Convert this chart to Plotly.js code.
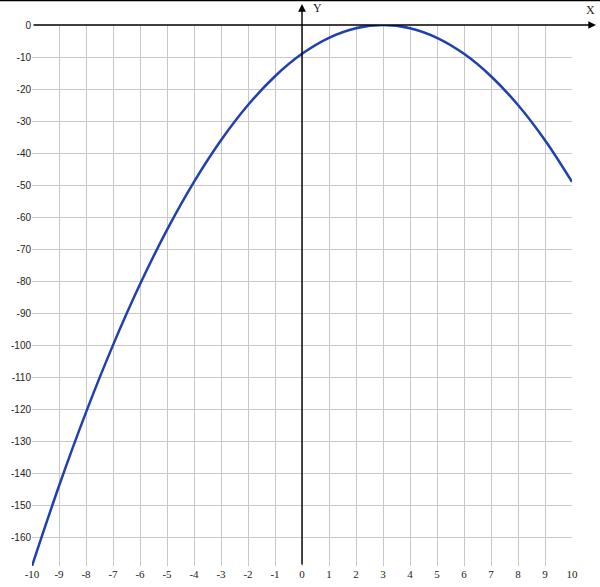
<!DOCTYPE html>
<html>
<head>
<meta charset="utf-8">
<script src="https://cdn.plot.ly/plotly-3.0.1.min.js"></script>
<style>html,body{margin:0;padding:0;background:#fff;}#chart{width:600px;height:587px;}</style>
</head>
<body>
<div id="chart"></div>
<script>
const xValues = [-10,-9,-8,-7,-6,-5,-4,-3,-2,-1,0,1,2,3,4,5,6,7,8,9,10];
const yValues = [-169,-144,-121,-100,-81,-64,-49,-36,-25,-16,-9,-4,-1,0,-1,-4,-9,-16,-25,-36,-49];
const xTickVals = [-10,-9,-8,-7,-6,-5,-4,-3,-2,-1,0,1,2,3,4,5,6,7,8,9,10];
const yTickVals = [0,-10,-20,-30,-40,-50,-60,-70,-80,-90,-100,-110,-120,-130,-140,-150,-160];

const W = 600, H = 587;
const m = {l: 32, r: 28, t: 25, b: 21};
const pw = W - m.l - m.r, ph = H - m.t - m.b;
const px = p => (p - m.l) / pw;          // pixel x -> paper x
const py = p => (H - m.b - p) / ph;      // pixel y -> paper y

const trace = {
  x: xValues, y: yValues, type: 'scatter', mode: 'lines',
  line: {color: '#2040b0', width: 2.5, shape: 'spline', smoothing: 1},
  hoverinfo: 'skip'
};

const layout = {
  width: W, height: H,
  margin: m,
  paper_bgcolor: '#fff', plot_bgcolor: '#fff',
  showlegend: false,
  xaxis: {
    range: [-10, 10], tickvals: xTickVals, ticktext: xTickVals.map(String),
    showgrid: true, gridcolor: '#c8c8c8', gridwidth: 1,
    zeroline: false, showline: false, ticks: '',
    tickfont: {family: 'Liberation Serif', size: 11, color: '#222'},
    fixedrange: true
  },
  yaxis: {
    range: [-169, 0], tickvals: yTickVals, ticktext: yTickVals.map(String),
    showgrid: true, gridcolor: '#c8c8c8', gridwidth: 1,
    zeroline: false, showline: false, ticks: '',
    tickfont: {family: 'Liberation Sans', size: 10, color: '#222'},
    fixedrange: true
  },
  shapes: [
    {type: 'line', xref: 'paper', yref: 'paper', x0: px(0), x1: px(600), y0: py(0.5), y1: py(0.5), line: {color: '#000', width: 1.5}}
  ],
  annotations: [
    {xref: 'x', yref: 'paper', x: 0, y: py(4), axref: 'pixel', ayref: 'pixel', ax: 0, ay: 562,
     text: '', showarrow: true, arrowhead: 2, arrowsize: 1.1, arrowwidth: 1.4, arrowcolor: '#000', standoff: 0, startstandoff: 0},
    {xref: 'paper', yref: 'y', x: px(596), y: 0, axref: 'pixel', ayref: 'pixel', ax: -564, ay: 0,
     text: '', showarrow: true, arrowhead: 2, arrowsize: 1.1, arrowwidth: 1.4, arrowcolor: '#000', standoff: 0, startstandoff: 0},
    {xref: 'paper', yref: 'paper', x: px(317), y: py(8), text: 'Y', showarrow: false,
     font: {family: 'Liberation Serif', size: 12, color: '#222'}, xanchor: 'center', yanchor: 'middle'},
    {xref: 'paper', yref: 'paper', x: px(590), y: py(10), text: 'X', showarrow: false,
     font: {family: 'Liberation Serif', size: 12, color: '#222'}, xanchor: 'center', yanchor: 'middle'}
  ]
};

Plotly.newPlot('chart', [trace], layout, {displayModeBar: false, staticPlot: true});
</script>
</body>
</html>
